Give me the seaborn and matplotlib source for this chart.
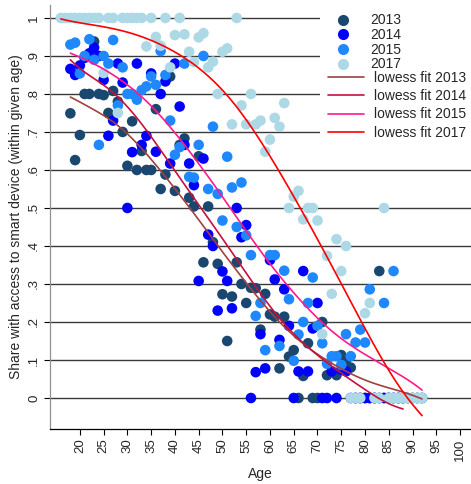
import numpy as np
import pandas as pd
import matplotlib
matplotlib.use("Agg")
import matplotlib.pyplot as plt
import seaborn as sns
from matplotlib.lines import Line2D
from matplotlib.patches import Rectangle

# ---------------- data ----------------
ages_2013 = list(range(18, 93))
vals_2013 = [0.749, 0.626, 0.692, 0.80, 0.80, 0.938, 0.80, 0.797, 0.75, 0.808,
             0.78, 0.70, 0.611, 0.728, 0.60, 0.65, 0.60, 0.60, 0.76, 0.55,
             0.588, 0.846, 0.545, 0.666, 0.683, 0.527, 0.504, 0.636, 0.357, 0.504,
             0.41, 0.353, 0.273, 0.15, 0.267, 0.357, 0.30, 0.25, 0.29, 0.289,
             0.18, 0.274, 0.22, 0.214, 0.078, 0.214, 0.109, 0.126, 0.0, 0.058,
             0.144, 0.0, 0.0, 0.20, 0.06, 0.07, 0.06, 0.113, 0.10, 0.08,
             0.0, 0.0, 0.0, 0.0, 0.0, 0.334, 0.0, 0.0, 0.0, 0.0,
             0.0, 0.0, 0.0, 0.0, 0.0]

ages_2014 = list(range(18, 89))
vals_2014 = [0.866, 0.85, 0.875, 0.895, 0.907, 0.922, 0.90, 0.837, 0.69, 0.73,
             0.88, 0.83, 0.50, 0.647, 0.88, 0.666, 0.69, 0.854, 0.648, 0.80,
             0.833, 0.617, 0.88, 0.767, 0.666, 0.617, 0.56, 0.308, 0.63, 0.43,
             0.40, 0.23, 0.333, 0.308, 0.236, 0.50, 0.423, 0.455, 0.0, 0.068,
             0.168, 0.078, 0.363, 0.312, 0.153, 0.286, 0.19, 0.0, 0.07, 0.334,
             0.07, 0.183, 0.25, 0.0, 0.0, 0.07, 0.0, 0.074, 0.07, 0.0,
             0.0, 0.0, 0.0, 0.0, 0.0, 0.0, 0.0, 0.0, 0.0, 0.0,
             0.0]

ages_2015 = list(range(18, 93))
vals_2015 = [0.93, 0.935, 0.854, 0.90, 0.944, 0.89, 0.666, 0.90, 0.88, 0.942,
             0.77, 0.87, 0.80, 0.80, 0.785, 0.81, 0.82, 0.846, 0.824, 0.913,
             0.85, 0.73, 0.64, 0.66, 0.88, 0.582, 0.58, 0.666, 0.90, 0.55,
             0.714, 0.537, 0.467, 0.635, 0.554, 0.45, 0.567, 0.428, 0.376, 0.216,
             0.25, 0.126, 0.376, 0.376, 0.137, 0.335, 0.26, 0.098, 0.167, 0.20,
             0.25, 0.317, 0.19, 0.144, 0.09, 0.11, 0.11, 0.087, 0.168, 0.11,
             0.146, 0.18, 0.146, 0.286, 0.0, 0.0, 0.25, 0.0, 0.334, 0.0,
             0.0, 0.0, 0.0, 0.0, 0.0]

ages_2017 = list(range(16, 93))
vals_2017 = [1, 1, 1, 1, 1, 1, 1, 1, 1, 0.855,
             1, 1, 0.75, 1, 1, 1, 1, 1, 0.925, 1,
             0.95, 0.927, 1, 0.87, 0.955, 1, 0.957, 0.911, 0.884, 0.949,
             0.96, 0.87, 0.885, 0.80, 0.911, 0.92, 0.72, 1.0, 0.77, 0.72,
             0.80, 0.72, 0.73, 0.648, 0.68, 0.737, 0.714, 0.776, 0.50, 0.53,
             0.545, 0.47, 0.50, 0.50, 0.467, 0.168, 0.374, 0.274, 0.418, 0.334,
             0.40, 0.0, 0.0, 0.0, 0.223, 0.25, 0.0, 0.0, 0.50, 0.0,
             0.0, 0.0, 0.0, 0.0, 0.0, 0.0, 0.0]

years = ["2013", "2014", "2015", "2017"]
x_ticks = list(range(20, 101, 5))
y_ticks = [0, .1, .2, .3, .4, .5, .6, .7, .8, .9, 1]
y_tick_labels = ["0", ".1", ".2", ".3", ".4", ".5", ".6", ".7", ".8", ".9", "1"]

series = {"2013": (ages_2013, vals_2013), "2014": (ages_2014, vals_2014),
          "2015": (ages_2015, vals_2015), "2017": (ages_2017, vals_2017)}

dot_colors = {"2013": "#1a476f", "2014": "#0000ff", "2015": "#1f88ff", "2017": "#add8e6"}
fit_colors = {"2013": "#a0413f", "2014": "#c8103e", "2015": "#ff1a8c", "2017": "#ff0000"}


def lowess(x, y, bwidth=0.8):
    """Stata-style lowess: symmetric index window truncated at the ends,
    tricube weights, local linear, no robustness iterations."""
    x = np.asarray(x, float)
    y = np.asarray(y, float)
    n = len(x)
    k = int(np.floor((n * bwidth - 0.5) / 2))
    out = np.empty(n)
    for i in range(n):
        lo, hi = max(0, i - k), min(n - 1, i + k)
        xs, ys = x[lo:hi + 1], y[lo:hi + 1]
        delta = 1.0001 * max(x[i] - x[lo], x[hi] - x[i])
        w = (1 - (np.abs(xs - x[i]) / delta) ** 3) ** 3
        W = w.sum()
        xm = (w * xs).sum() / W
        ym = (w * ys).sum() / W
        b = (w * (xs - xm) * (ys - ym)).sum() / (w * (xs - xm) ** 2).sum()
        out[i] = ym + b * (x[i] - xm)
    return out


frames = []
for yr in years:
    a, v = series[yr]
    frames.append(pd.DataFrame({"age": a, "share": v, "year": yr,
                                "fit": lowess(a, v)}))
df = pd.concat(frames, ignore_index=True)

# ---------------- plot ----------------
sns.set_theme(style="white")
plt.rcParams["font.family"] = ["Liberation Sans", "DejaVu Sans"]

fig = plt.figure(figsize=(4.71, 4.84), dpi=100)
ax = fig.add_axes([0.106, 0.1136, 0.894, 0.876])

for yv in y_ticks:
    ax.axhline(yv, color="#3a3a3a", lw=1.0, zorder=0)

# white backing for the legend area (covers the grid lines)
ax.add_patch(Rectangle((0.641, 0.69), 0.36, 0.32, transform=ax.transAxes,
                       facecolor="white", edgecolor="none", zorder=1,
                       clip_on=False))

for yr in years:
    sub = df[df.year == yr]
    sns.scatterplot(data=sub, x="age", y="share", color=dot_colors[yr], s=58,
                    edgecolor="none", linewidth=0, ax=ax, zorder=3, legend=False)
for yr in years:
    sub = df[df.year == yr]
    sns.lineplot(data=sub, x="age", y="fit", color=fit_colors[yr], lw=1.2,
                 estimator=None, sort=True, ax=ax, zorder=4, legend=False)

ax.set_xlim(13.7, 102.3)
ax.set_ylim(-0.0816, 1.034)
ax.set_xticks(x_ticks)
ax.set_xticklabels([str(t) for t in x_ticks], rotation=90, fontsize=9.5)
ax.set_yticks(y_ticks)
ax.set_yticklabels(y_tick_labels, rotation=90, fontsize=9.5, va="center")
ax.tick_params(axis="both", direction="out", length=4, width=0.8, color="black",
               bottom=True, left=True, pad=3)
for s in ["top", "right"]:
    ax.spines[s].set_visible(False)
ax.spines["bottom"].set_color("black")
ax.spines["left"].set_color("#909090")
ax.spines["bottom"].set_linewidth(0.9)
ax.spines["left"].set_linewidth(0.9)
ax.set_xlabel("Age", fontsize=10)
ax.set_ylabel("Share with access to smart device (within given age)", fontsize=10)

# legend: markers block, then fit-lines block
mh = [Line2D([], [], marker="o", ls="none", color=dot_colors[yr],
             markersize=8, markeredgewidth=0) for yr in years]
lh = [Line2D([], [], color=fit_colors[yr], lw=1.2) for yr in years]
leg1 = ax.legend(mh, years, loc="upper left", bbox_to_anchor=(0.633, 1.0),
                 frameon=False, fontsize=10, handlelength=2.6,
                 handletextpad=0.7, labelspacing=0.05, borderpad=0.1)
leg1.set_zorder(5)
ax.add_artist(leg1)
leg2 = ax.legend(lh, ["lowess fit " + yr for yr in years], loc="upper left",
                 bbox_to_anchor=(0.633, 0.872),
                 frameon=False, fontsize=10, handlelength=2.6,
                 handletextpad=0.7, labelspacing=0.3, borderpad=0.35)
leg2.set_zorder(5)

fig.savefig("out.png", dpi=100)
